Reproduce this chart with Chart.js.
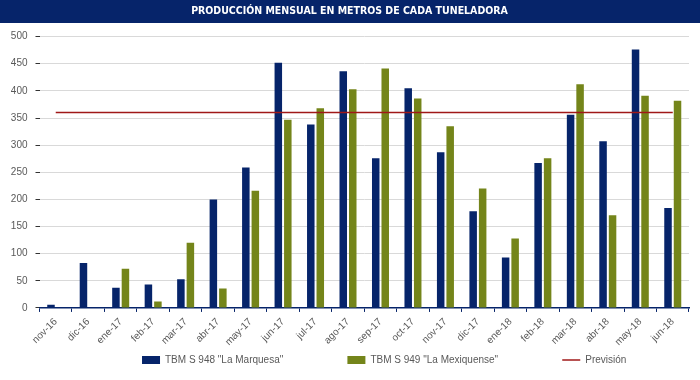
<!DOCTYPE html>
<html>
<head>
<meta charset="utf-8">
<script src="https://cdn.jsdelivr.net/npm/chart.js@4"></script>
<style>
  html, body { margin: 0; padding: 0; background: #fff; }
  #wrap { width: 700px; height: 380px; }
</style>
</head>
<body>
<div id="wrap"><canvas id="chart" width="700" height="380"></canvas></div>
<script>
// ---------------- DATA ----------------
const months = ["nov-16", "dic-16", "ene-17", "feb-17", "mar-17", "abr-17", "may-17", "jun-17", "jul-17", "ago-17",
    "sep-17", "oct-17", "nov-17", "dic-17", "ene-18", "feb-18", "mar-18", "abr-18", "may-18", "jun-18"];
const marquesa = [6, 83, 37, 43, 53, 200, 259, 452, 338, 436, 276, 405, 287, 178, 93, 267, 356, 307, 476, 184];
const mexiquense = [null, null, 72, 12, 120, 36, 216, 347, 368, 403, 441, 386, 335, 220, 128, 276, 412, 171, 391, 382];
const prevision = months.map(() => 360);
const seriesNames = ['TBM S 948 "La Marquesa"', 'TBM S 949 "La Mexiquense"', "Previsión"];
const title = "PRODUCCIÓN MENSUAL EN METROS DE CADA TUNELADORA";

const NAVY = "#06246a";
const OLIVE = "#74851a";
const RED = "#a01818";
const TEXT = "#595959";
const FONT = '"Liberation Sans", Arial, sans-serif';

// ---------------- TITLE BAR ----------------
const titleBar = {
    id: "titleBar",
    beforeDraw(chart) {
        const ctx = chart.ctx;
        ctx.save();
        ctx.fillStyle = NAVY;
        ctx.fillRect(0, 0, chart.width, 23);
        ctx.restore();
    }
};

// ---------------- CHART ----------------
const spacer = (n) => " ".repeat(n);

new Chart(document.getElementById("chart"), {
    type: "bar",
    data: {
        labels: months,
        datasets: [
            { label: seriesNames[0], data: marquesa, backgroundColor: NAVY, order: 2 },
            { label: seriesNames[1], data: mexiquense, backgroundColor: OLIVE, order: 2 },
            {
                type: "line", label: seriesNames[2], data: prevision,
                borderColor: RED, borderWidth: 1.5, pointRadius: 0, order: 1
            }
        ]
    },
    options: {
        responsive: false,
        animation: false,
        layout: { padding: { left: 10, right: 11, top: 0, bottom: 5 } },
        datasets: { bar: { categoryPercentage: 0.585, barPercentage: 0.79 } },
        scales: {
            x: {
                offset: true,
                grid: { display: true, drawOnChartArea: false, offset: true, tickLength: 4, tickColor: NAVY },
                border: { color: NAVY, width: 1.5 },
                ticks: { color: TEXT, font: { family: FONT, size: 10 }, minRotation: 45, maxRotation: 45, padding: 4 },
                afterFit(scale) { scale.paddingLeft = 0; scale.paddingRight = 0; }
            },
            y: {
                min: 0, max: 500,
                grid: { color: "#d9d9d9", tickLength: 4, tickColor: "#333" },
                border: { display: false },
                ticks: { stepSize: 50, color: TEXT, font: { family: FONT, size: 10 }, padding: 8 },
                afterFit(scale) { scale.width = 29.5; }
            }
        },
        plugins: {
            title: {
                display: true, text: title, color: "#fff",
                font: { family: '"DejaVu Sans Condensed", sans-serif', size: 10.5, weight: "bold" },
                padding: { top: 5, bottom: 19 }
            },
            legend: {
                position: "bottom",
                fullSize: false,
                labels: {
                    color: TEXT, font: { family: FONT, size: 10 },
                    usePointStyle: true, pointStyleWidth: 18, boxHeight: 8, padding: 3,
                    sort: (a, b) => a.datasetIndex - b.datasetIndex,
                    generateLabels(chart) {
                        const items = Chart.defaults.plugins.legend.labels.generateLabels(chart);
                        items.forEach((it) => {
                            if (it.datasetIndex === 2) {
                                it.pointStyle = "line";
                                it.strokeStyle = RED;
                                it.lineWidth = 1.5;
                            } else {
                                it.pointStyle = "rect";
                                it.lineWidth = 0;
                                it.text = it.text + spacer(22);
                            }
                        });
                        // empty lead entry: shifts the centred legend row to the right like the original
                        items.unshift({
                            text: spacer(5), fillStyle: "rgba(0,0,0,0)", strokeStyle: "rgba(0,0,0,0)",
                            lineWidth: 0, pointStyle: "rect", hidden: false, datasetIndex: -1
                        });
                        return items;
                    }
                }
            },
            tooltip: { enabled: false }
        }
    },
    plugins: [titleBar]
});
</script>
</body>
</html>
